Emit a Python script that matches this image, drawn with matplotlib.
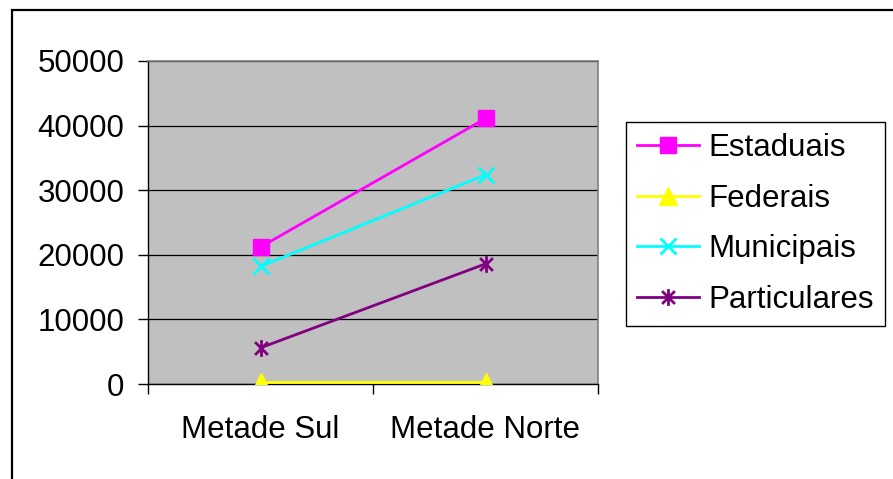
import matplotlib
matplotlib.use("Agg")
import matplotlib.pyplot as plt
from matplotlib.path import Path
from matplotlib.patches import Rectangle

plt.rcParams['font.family'] = ['Liberation Sans', 'DejaVu Sans']

categories = ["Metade Sul", "Metade Norte"]
estaduais = [21200, 41100]
federais = [300, 300]
municipais = [18200, 32400]
particulares = [5600, 18600]
yticks = [0, 10000, 20000, 30000, 40000, 50000]

# asterisk marker: an x with a vertical bar through it
star = Path([(-1, -1), (1, 1), (-1, 1), (1, -1), (0, -1.3), (0, 1.3)],
            [Path.MOVETO, Path.LINETO, Path.MOVETO, Path.LINETO, Path.MOVETO, Path.LINETO])

W, H = 893, 479
FS = 22.5
fig = plt.figure(figsize=(W / 100, H / 100), dpi=100)
fig.patch.set_facecolor("white")

# outer chart frame
fig.patches.append(Rectangle((12 / W, -0.1), 1.0, 1 - 10 / H + 0.1, transform=fig.transFigure,
                             fill=False, edgecolor="black", linewidth=1.6))

ax = fig.add_axes([148 / W, 1 - 384 / H, 450 / W, 323 / H])
ax.set_facecolor("#C0C0C0")

x = [0.5, 1.5]
ax.plot(x, estaduais, color="#FF00FF", lw=2, marker="s", ms=11.5, mfc="#FF00FF", mec="#FF00FF", label="Estaduais", zorder=3)
ax.plot(x, federais, color="#FFFF00", lw=2, marker="^", ms=13, mfc="#FFFF00", mec="#FFFF00", label="Federais", zorder=3)
ax.plot(x, municipais, color="#00FFFF", lw=2, marker="x", ms=12, mew=2, mec="#00FFFF", label="Municipais", zorder=3)
ax.plot(x, particulares, color="#800080", lw=2, marker=star, ms=12, mew=2, mfc="none", mec="#800080", label="Particulares", zorder=3)

ax.set_xlim(0, 2)
ax.set_ylim(0, 50000)
ax.set_yticks(yticks)
ax.set_yticklabels([str(v) for v in yticks])
ax.set_xticks([0, 1, 2])
ax.set_xticklabels([])
ax.set_xticks(x, minor=True)
ax.set_xticklabels(categories, minor=True)
ax.tick_params(axis="x", which="minor", length=0, pad=22, labelsize=FS)
ax.tick_params(axis="x", which="major", length=7, width=1, direction="out", color="black")
ax.tick_params(axis="y", length=7, width=1, direction="out", pad=10, labelsize=FS)

ax.yaxis.grid(True, color="black", lw=0.9)
ax.set_axisbelow(True)
for s in ["top", "right"]:
    ax.spines[s].set_color("#808080")
    ax.spines[s].set_linewidth(1.2)
for s in ["left", "bottom"]:
    ax.spines[s].set_color("black")
    ax.spines[s].set_linewidth(1.0)

leg = fig.legend(loc="upper left", bbox_to_anchor=(626 / W, 1 - 122 / H), fontsize=FS,
                 frameon=True, fancybox=False, edgecolor="black", framealpha=1,
                 handlelength=2.0, handletextpad=0.3, labelspacing=0.66,
                 borderpad=0.35, borderaxespad=0)
leg.get_frame().set_linewidth(1.0)

fig.savefig("out.png", dpi=100)
